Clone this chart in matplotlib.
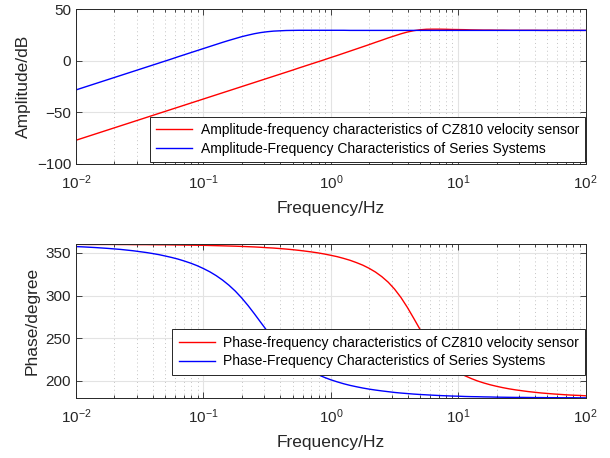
import numpy as np
import matplotlib
matplotlib.use('Agg')
import matplotlib.pyplot as plt
from matplotlib.ticker import LogLocator, NullFormatter

plt.rcParams['font.family'] = ['Liberation Sans', 'DejaVu Sans']
plt.rcParams['mathtext.fontset'] = 'custom'
plt.rcParams['mathtext.rm'] = 'Liberation Sans'
plt.rcParams['mathtext.it'] = 'Liberation Sans:italic'

# frequency grid, 20 points per decade, 0.01 .. 100 Hz
freq = np.logspace(-2, 2, 81)

# CZ810 velocity sensor
amp_sensor = [-77.0, -75.0, -73.0, -71.0, -69.0, -67.0, -65.0, -63.0, -61.0, -59.0,
              -57.0, -55.0, -53.0, -51.0, -49.0, -47.0, -45.0, -43.0, -41.0, -39.0,
              -37.0, -35.0, -33.0, -31.0, -29.0, -27.0, -25.0, -23.0, -21.0, -19.0,
              -17.0, -15.0, -13.0, -11.0, -9.0, -6.9, -4.9, -2.9, -0.9, 1.1,
              3.2, 5.2, 7.3, 9.4, 11.5, 13.6, 15.7, 17.9, 20.0, 22.2,
              24.2, 26.2, 27.9, 29.2, 30.1, 30.6, 30.7, 30.7, 30.6, 30.4,
              30.3, 30.2, 30.0, 29.9, 29.8, 29.8, 29.7, 29.7, 29.6, 29.6,
              29.6, 29.6, 29.6, 29.5, 29.5, 29.5, 29.5, 29.5, 29.5, 29.5, 29.5]
ph_sensor = [359.9, 359.9, 359.8, 359.8, 359.8, 359.8, 359.8, 359.7, 359.7, 359.6,
             359.6, 359.6, 359.5, 359.4, 359.4, 359.3, 359.2, 359.1, 359.0, 358.9,
             358.8, 358.6, 358.4, 358.2, 358.0, 357.8, 357.5, 357.2, 356.9, 356.5,
             356.0, 355.6, 355.0, 354.4, 353.7, 352.9, 352.0, 351.0, 349.9, 348.6,
             347.1, 345.5, 343.5, 341.3, 338.6, 335.6, 331.9, 327.5, 322.1, 315.6,
             307.5, 297.7, 286.2, 273.4, 260.3, 248.0, 237.3, 228.4, 221.1, 215.1,
             210.3, 206.2, 202.9, 200.0, 197.6, 195.5, 193.7, 192.1, 190.7, 189.5,
             188.5, 187.5, 186.7, 185.9, 185.3, 184.7, 184.2, 183.7, 183.3, 183.0, 182.6]

# series system
amp_series = [-28.2, -26.2, -24.2, -22.2, -20.2, -18.2, -16.2, -14.2, -12.2, -10.2,
              -8.2, -6.2, -4.2, -2.2, -0.2, 1.8, 3.9, 5.9, 7.9, 9.9,
              11.9, 13.9, 15.9, 17.9, 19.8, 21.6, 23.4, 24.9, 26.3, 27.4,
              28.2, 28.8, 29.1, 29.4, 29.5, 29.6, 29.6, 29.6, 29.6, 29.6,
              29.6, 29.6, 29.6, 29.5, 29.5, 29.5, 29.5, 29.5, 29.5, 29.5,
              29.5, 29.5, 29.5, 29.5, 29.5, 29.5, 29.5, 29.5, 29.5, 29.5,
              29.5, 29.5, 29.5, 29.5, 29.5, 29.5, 29.5, 29.5, 29.5, 29.5,
              29.5, 29.5, 29.5, 29.5, 29.5, 29.5, 29.5, 29.5, 29.5, 29.5, 29.5]
ph_series = [357.3, 357.0, 356.6, 356.2, 355.7, 355.2, 354.6, 354.0, 353.2, 352.4,
             351.4, 350.4, 349.2, 347.9, 346.3, 344.6, 342.7, 340.4, 337.9, 335.0,
             331.6, 327.8, 323.3, 318.1, 312.1, 305.2, 297.2, 288.3, 278.6, 268.5,
             258.5, 249.0, 240.3, 232.6, 226.0, 220.2, 215.3, 211.0, 207.3, 204.1,
             201.3, 198.9, 196.7, 194.8, 193.2, 191.7, 190.4, 189.3, 188.3, 187.4,
             186.5, 185.8, 185.2, 184.6, 184.1, 183.7, 183.3, 182.9, 182.6, 182.3,
             182.1, 181.8, 181.6, 181.5, 181.3, 181.2, 181.0, 180.9, 180.8, 180.7,
             180.7, 180.6, 180.5, 180.5, 180.4, 180.4, 180.3, 180.3, 180.3, 180.2, 180.2]

labels_amp = ['Amplitude-frequency characteristics of CZ810 velocity sensor',
              'Amplitude-Frequency Characteristics of Series Systems']
labels_ph = ['Phase-frequency characteristics of CZ810 velocity sensor',
             'Phase-Frequency Characteristics of Series Systems']

dark = '#262626'

fig = plt.figure(figsize=(6.1, 4.58), dpi=100)
ax1 = fig.add_axes([0.1246, 0.642, 0.8356, 0.3378])
ax2 = fig.add_axes([0.1246, 0.131, 0.8356, 0.3356])

def style(ax):
    ax.set_xscale('log')
    ax.set_xlim(1e-2, 1e2)
    ax.xaxis.set_major_locator(LogLocator(base=10, numticks=10))
    ax.xaxis.set_minor_locator(LogLocator(base=10, subs=np.arange(2, 10), numticks=10))
    ax.xaxis.set_minor_formatter(NullFormatter())
    ax.tick_params(which='both', direction='in', top=True, right=True,
                   colors=dark, labelsize=11, width=0.6)
    ax.tick_params(which='major', length=4)
    ax.tick_params(which='minor', length=2.2)
    ax.tick_params(axis='x', which='major', pad=7)
    for sp in ax.spines.values():
        sp.set_color(dark)
        sp.set_linewidth(0.7)
    ax.grid(True, which='major', color='#e3e3e3', linewidth=0.8, linestyle='-')
    ax.grid(True, which='minor', axis='x', color='#c4c4c4', linewidth=0.7,
            linestyle=(0, (1, 3)))
    ax.set_axisbelow(True)
    ax.set_xlabel('Frequency/Hz', fontsize=12.5, color=dark, labelpad=6)

def add_legend(ax, handles, labels, y0):
    leg = ax.legend(handles, labels, loc='lower right', bbox_to_anchor=(0.999, y0),
                    borderaxespad=0, fontsize=10.0, fancybox=False, framealpha=1,
                    edgecolor=dark, handlelength=2.6, handletextpad=0.6,
                    borderpad=0.45, labelspacing=0.35)
    leg.get_frame().set_linewidth(0.7)
    return leg

style(ax1)
l1, = ax1.plot(freq, amp_sensor, color='red', lw=1.0)
l2, = ax1.plot(freq, amp_series, color='blue', lw=1.0)
ax1.set_ylim(-100, 50)
ax1.set_yticks([-100, -50, 0, 50])
ax1.set_ylabel('Amplitude/dB', fontsize=12.5, color=dark, labelpad=4)
add_legend(ax1, [l1, l2], labels_amp, 0.012)

style(ax2)
l3, = ax2.plot(freq, ph_sensor, color='red', lw=1.0)
l4, = ax2.plot(freq, ph_series, color='blue', lw=1.0)
ax2.set_ylim(180, 360)
ax2.set_yticks([200, 250, 300, 350])
ax2.set_ylabel('Phase/degree', fontsize=12.5, color=dark, labelpad=4)
add_legend(ax2, [l3, l4], labels_ph, 0.152)

fig.savefig('out.png', dpi=100)
